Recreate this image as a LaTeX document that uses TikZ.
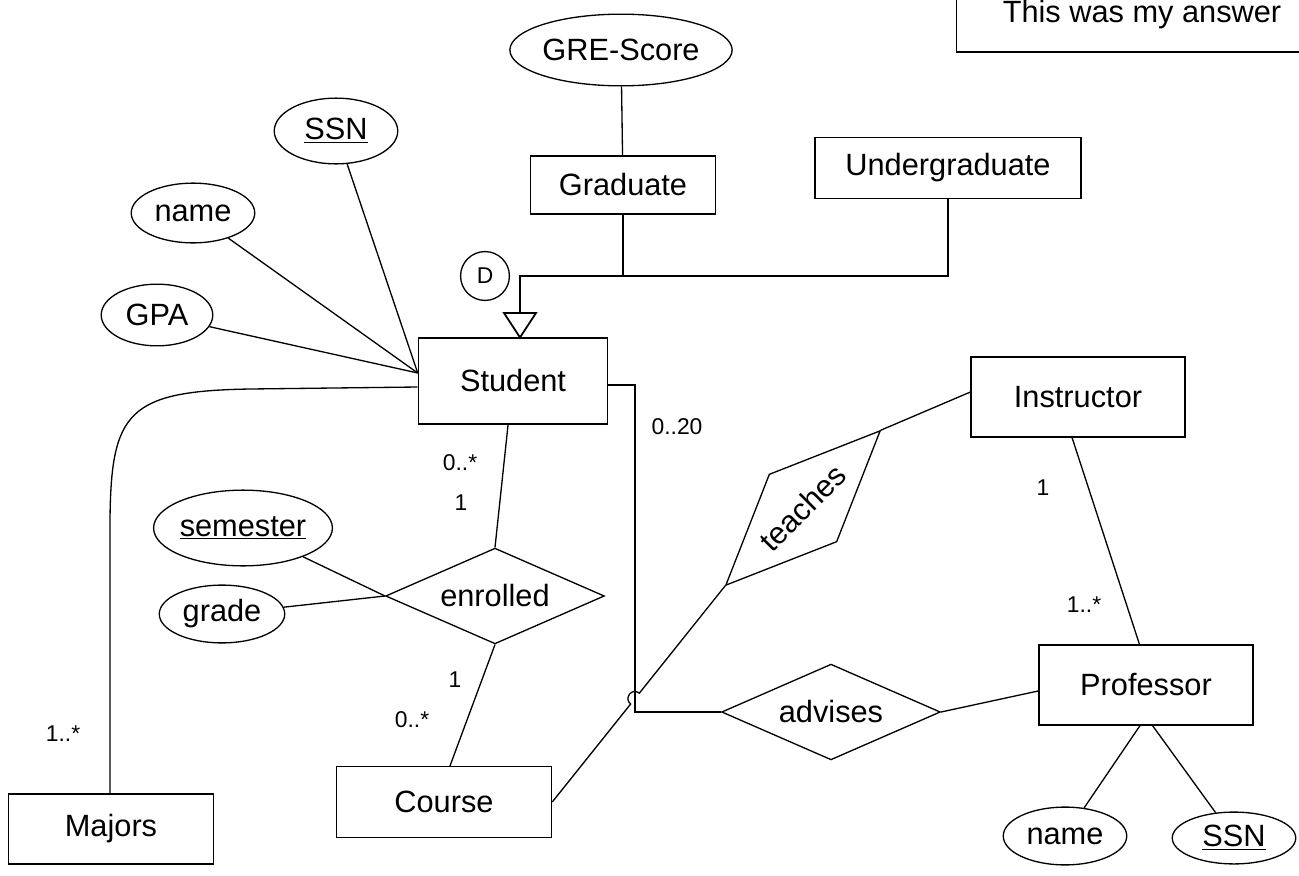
\documentclass[tikz,border=0pt]{standalone}
\usepackage{fontspec}
\setmainfont{Liberation Sans}
\usetikzlibrary{shapes.geometric,calc}
\tikzset{
  ent/.style={draw,rectangle,inner sep=0pt,font=\fontsize{17.5}{21}\selectfont},
  att/.style={draw,ellipse,inner sep=0pt,font=\fontsize{17.5}{21}\selectfont},
  rel/.style={draw,diamond,aspect=2.2,inner sep=0pt,minimum width=124.5pt,minimum height=54.5pt,font=\fontsize{17.5}{21}\selectfont},
  card/.style={inner sep=0pt,font=\fontsize{13}{15}\selectfont},
  isa/.style={line width=1pt}
}
\newcommand{\pkey}[1]{\underline{#1}}

\begin{document}
\begin{tikzpicture}[x=0.02cm,y=-0.02cm,line width=0.75pt]
\useasboundingbox (0,0) rectangle (1299,876);
% entities
\node[ent,minimum width=210.9pt,minimum height=45.4pt,text height=12.5pt,text depth=0pt] (note) at (1142,12) {This was my answer};
\node[ent,minimum width=107.7pt,minimum height=48.8pt] (stud) at (513,381) {Student};
\node[ent,minimum width=105.4pt,minimum height=32.9pt] (grad) at (623,185) {Graduate};
\node[ent,minimum width=151.4pt,minimum height=35.1pt] (ugrad) at (948,168) {Undergraduate};
\node[ent,minimum width=121.9pt,minimum height=45.4pt] (instr) at (1078,397) {Instructor};
\node[ent,minimum width=121.9pt,minimum height=45.4pt] (prof) at (1146,685) {Professor};
\node[ent,minimum width=122.5pt,minimum height=40.3pt] (course) at (444,802) {Course};
\node[ent,minimum width=116.5pt,minimum height=39.7pt] (majors) at (111,829) {Majors};
% attributes
\node[att,minimum width=124.7pt,minimum height=40.8pt] (gre) at (621,50) {GRE-Score};
\node[att,minimum width=70.3pt,minimum height=37.4pt] (ssn) at (336,131) {\pkey{SSN}};
\node[att,minimum width=70.3pt,minimum height=34pt] (sname) at (193,213) {name};
\node[att,minimum width=63.5pt,minimum height=35.1pt] (gpa) at (157,315) {GPA};
\node[att,minimum width=100.9pt,minimum height=43.1pt] (sem) at (243,528) {\pkey{semester}};
\node[att,minimum width=71.4pt,minimum height=32.9pt] (grade) at (222,614) {grade};
\node[att,minimum width=70.3pt,minimum height=32.9pt] (pname) at (1065,836) {name};
\node[att,minimum width=70.3pt,minimum height=29.5pt] (pssn) at (1234,838) {\pkey{SSN}};
% relationships
\node[rel] (enr) at (495,596) {enrolled};
\node[rel] (adv) at (831,712) {advises};
\node[rel,rotate=45] (teach) at (803,508) {teaches};
\node[draw,circle,minimum size=27.8pt,inner sep=0pt,font=\fontsize{13}{15}\selectfont] (disj) at (485,276) {D};
% specialisation
\coordinate (isa) at (520,276);
\coordinate (tri) at (520,313);
\draw (grad.south) -- (grad.south |- isa);
\draw (ugrad.south) |- (isa) -- (tri);
\draw[isa] (tri) ++(-16,0) -- ++(32,0) -- (isa |- stud.north) -- cycle;
% attribute links
\coordinate (sa) at ($(stud.west)+(0,-8)$);
\coordinate (sm) at ($(stud.west)+(0,6)$);
\draw (gre) -- (grad);
\draw (ssn) -- (sa);
\draw (sname) -- (sa);
\draw (gpa) -- (sa);
\draw (sem) -- (enr.west);
\draw (grade) -- (enr.west);
\draw ([xshift=-3.4pt]prof.south) -- (pname);
\draw ([xshift=3.7pt]prof.south) -- (pssn);
% relationship links
\draw (sm) -- (250,389) .. controls (128,391) and (111,412) .. (110,520) -- (majors.north -| 110,0);
\draw ([xshift=-2.8pt]stud.south) -- (enr.north);
\draw (enr.south) -- ([xshift=3.4pt]course.north);
\coordinate (bend) at (635,712);
\coordinate (vtop) at (635,385);
\draw ([yshift=-2.3pt]stud.east) -| (bend) -- (adv.west);
\draw (adv.east) -- ([yshift=-3.4pt]prof.west);
\draw ([yshift=2.8pt]instr.west) -- (teach.east);
\draw ([xshift=-3.4pt]instr.south) -- ([xshift=-3.7pt]prof.north);
\coordinate (hx) at (intersection of teach.west--course.east and bend--vtop);
\coordinate (hA) at ($(hx)!3.97pt!(teach.west)$);
\coordinate (hB) at ($(hx)!3.97pt!(course.east)$);
\draw (teach.west) -- (hA) .. controls +(-7.3,-5.9) and +(-7.3,-5.9) .. (hB) -- (course.east);
% cardinalities
\node[card] (c1) at (460,463) {0..*};
\node[card] (c2) at (461,503) {1};
\node[card] (c3) at (455,680) {1};
\node[card] (c4) at (412,720) {0..*};
\node[card] (c5) at (677,427) {0..20};
\node[card] (c6) at (63,734) {1..*};
\node[card] (c7) at (1043,488) {1};
\node[card] (c8) at (1084,605) {1..*};
\end{tikzpicture}
\end{document}
